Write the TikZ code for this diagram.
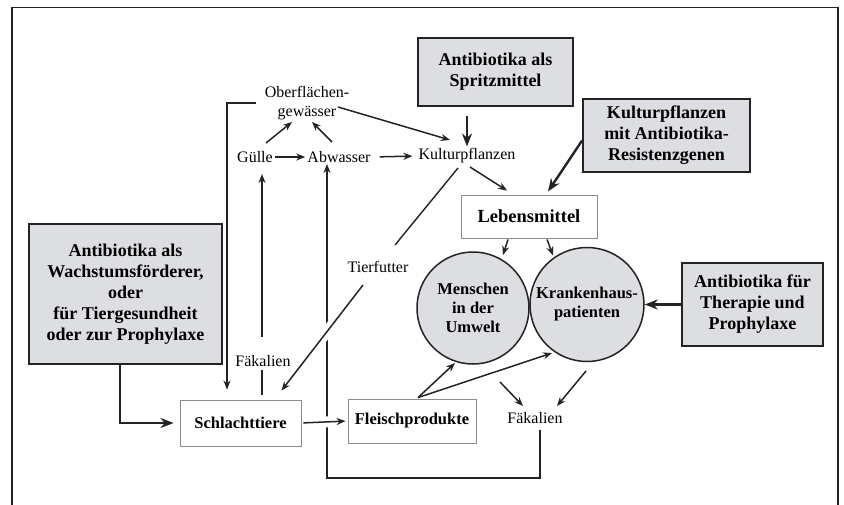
\documentclass[tikz,border=0pt]{standalone}
\usepackage{fontspec}
\setmainfont{Liberation Serif}
\usetikzlibrary{arrows.meta,calc}
\definecolor{boxgray}{RGB}{221,222,225}
\definecolor{linedark}{RGB}{35,35,35}
\begin{document}
\begin{tikzpicture}[x=1pt,y=-1pt,
  graybox/.style={draw=linedark, line width=1.8pt, fill=boxgray, inner sep=0pt, align=center, font=\bfseries\fontsize{18}{21}\selectfont},
  whitebox/.style={draw=black!45, line width=0.9pt, fill=white, inner sep=0pt, font=\bfseries\fontsize{16.5}{19}\selectfont},
  circ/.style={circle, draw=linedark, line width=1.5pt, fill=boxgray, inner sep=0pt, align=center, font=\bfseries\fontsize{16.5}{19}\selectfont},
  lbl/.style={inner sep=2pt, font=\fontsize{16}{19}\selectfont, align=center},
  plain/.style={line width=1.4pt, draw=linedark},
  arr/.style={line width=1.5pt, draw=linedark, -{Stealth[length=9pt,width=7pt]}},
  bigarr/.style={line width=2.4pt, draw=linedark, -{Stealth[length=13pt,width=10pt]}},
  halo/.style={preaction={draw=white, line width=11pt, -, shorten <=14pt, shorten >=14pt}},
]
\path[use as bounding box] (0,0) rectangle (844,504);
% outer frame
\draw[line width=1.4pt, draw=linedark] (12,520) -- (12,7.5) -- (838,7.5) -- (838,520);

% boxes
\node[graybox, minimum width=155pt, minimum height=68pt] (spr) at (495.5,72) {Antibiotika als\\Spritzmittel};
\node[graybox, minimum width=167pt, minimum height=73pt] (kbox) at (666.5,135.5) {Kulturpflanzen\\mit Antibiotika-\\Resistenzgenen};
\node[graybox, minimum width=193pt, minimum height=140pt] (lbox) at (125.5,294) {Antibiotika als\\Wachstumsförderer,\\oder\\für Tiergesundheit\\oder zur Prophylaxe};
\node[graybox, minimum width=141pt, minimum height=83pt] (ther) at (752.5,304.5) {Antibiotika für\\Therapie und\\Prophylaxe};
\node[whitebox, minimum width=136pt, minimum height=43pt, font=\bfseries\fontsize{18.5}{21}\selectfont] (leb) at (529,216.5) {Lebensmittel};
\node[whitebox, minimum width=121pt, minimum height=46pt] (sch) at (240.5,423) {Schlachttiere};
\node[whitebox, minimum width=128pt, minimum height=44pt] (fle) at (412,421) {Fleischprodukte};
\node[circ, minimum size=112pt] (men) at (473,308) {Menschen\\in der\\Umwelt};
\node[circ, minimum size=114pt] (kra) at (587,304.5) {Krankenhaus-\\patienten};

% labels
\node[lbl] (gew) at (307,103) {Oberflächen-\\gewässer};
\node[lbl] (gue) at (255,157) {Gülle};
\node[lbl] (abw) at (339,157) {Abwasser};
\node[lbl] (kult) at (467,156) {Kulturpflanzen};
\node[lbl] (tier) at (378,267) {Tierfutter};
\node[lbl] (fakL) at (263,361) {Fäkalien};
\node[lbl] (fakB) at (535,418) {Fäkalien};

% top cluster
\draw[arr] (gue.east) -- (abw.west);
\draw[arr, shorten <=7pt, shorten >=4pt] (abw.east) -- (kult.west);
\draw[arr] ($(gue)+(11,-14)$) -- ($(gew)+(-15,19)$);
\draw[arr] ($(abw)+(-7,-15)$) -- ($(gew)+(5,19)$);
\draw[arr] ($(gew)+(31,4)$) -- ($(kult)+(-17,-16)$);
\draw[bigarr] ($(spr.south -| kult)+(0,9)$) -- (kult.north);
\draw[bigarr] ($(kbox.west)+(0,5)$) -- ($(leb.north)+(19,-3)$);
\draw[arr] ($(kult)+(3,11)$) -- ($(leb.north)+(-22,-4)$);
\draw[plain] ($(kult)+(-9,12)$) -- ($(tier)+(17,-22)$);

% left bracket from Oberflaechengewaesser down to Schlachttiere
\draw[arr] ($(gew.west)+(-7,0)$) -| ($(sch.north)+(-13.5,-10)$);
% Schlachttiere -> Guelle via Faekalien
\draw[plain] ($(fakL)+(-1,9)$) -- ($(sch.north)+(21.5,-5)$);
\draw[arr] ($(fakL)+(-1,-24)$) -- ($(gue)+(7,17)$);

% loop Faekalien -> Abwasser
\draw[arr] ($(fakB)+(5,12)$) -- ++(0,48) -| ($(abw)+(-12,7)$);

% crossing arrows
\draw[arr, halo] ($(tier)+(-15,18)$) -- ($(sch.north)+(41,-9)$);
\draw[arr, halo, shorten <=2pt, shorten >=2pt] (sch.east) -- (fle.west);

% left big box -> Schlachttiere
\draw[bigarr, shorten >=6pt] ($(lbox.south)+(-5.5,0)$) |- (sch.west);

% Lebensmittel -> circles
\draw[arr] ($(leb.south)+(-21,1)$) -- ($(men)+(30,-53)$);
\draw[arr] ($(leb.south)+(18,1)$) -- ($(kra)+(-34,-49)$);
% Therapie -> Krankenhaus
\draw[bigarr] (ther.west) -- (kra.east);
% Fleischprodukte -> circles
\draw[arr] ($(fle.north)+(6,-1)$) -- ($(men)+(-18,55)$);
\draw[arr] ($(fle.north)+(6,-1)$) -- ($(kra)+(-35,48.5)$);
% circles -> Faekalien
\draw[arr] ($(men)+(27,74)$) -- ($(fakB)+(-12,-12)$);
\draw[arr] ($(kra)+(-1,66.5)$) -- ($(fakB)+(22,-12)$);
\end{tikzpicture}
\end{document}
